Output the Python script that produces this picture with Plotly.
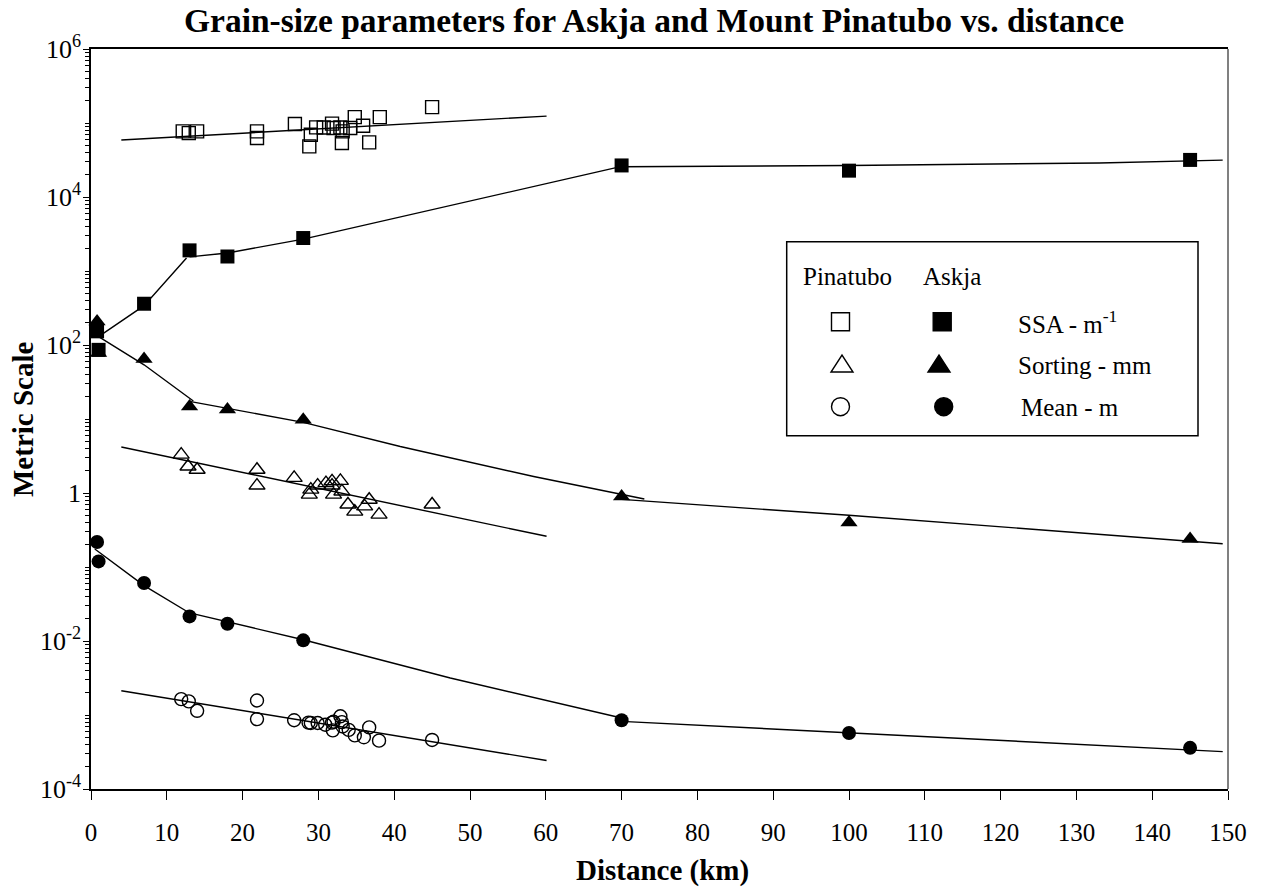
import plotly.graph_objects as go

FONT = "Liberation Serif, Times New Roman, serif"

# ---- Mount Pinatubo samples (open symbols) ----
pin_ssa_x = [12.1, 12.9, 14.0, 21.9, 21.9, 26.9, 28.8, 29.0, 29.7, 30.7, 31.8,
             32.0, 32.9, 33.1, 33.2, 34.2, 34.8, 35.9, 36.7, 38.1, 45.0]
pin_ssa = [77000, 73000, 77000, 77000, 62700, 96900, 48300, 69500, 87300, 87000, 98000,
           85500, 87000, 53700, 77000, 85500, 120000, 92000, 54700, 120000, 164000]

pin_sort_x = [11.9, 12.8, 14.0, 21.9, 21.9, 26.8, 28.8, 29.0, 29.9, 31.0, 31.8,
              31.8, 32.0, 32.9, 33.1, 33.9, 34.8, 36.1, 36.7, 38.0, 45.0]
pin_sort = [3.3, 2.28, 2.06, 2.06, 1.26, 1.6, 0.95, 1.11, 1.26, 1.36, 1.44,
            1.26, 0.95, 1.46, 1.05, 0.70, 0.56, 0.66, 0.81, 0.51, 0.70]

pin_mean_x = [11.9, 12.9, 14.0, 21.9, 21.9, 26.8, 28.7, 29.0, 29.9, 30.9, 31.8,
              31.9, 32.0, 32.9, 33.1, 33.2, 34.0, 34.8, 36.0, 36.7, 38.0, 45.0]
pin_mean = [1.64e-3, 1.53e-3, 1.14e-3, 1.57e-3, 8.8e-4, 8.5e-4, 7.9e-4, 7.8e-4, 7.8e-4, 7.4e-4, 7.9e-4,
            6.2e-4, 8.1e-4, 9.6e-4, 8.0e-4, 7.0e-4, 6.3e-4, 5.3e-4, 5.0e-4, 6.8e-4, 4.5e-4, 4.6e-4]

# ---- Askja samples (filled symbols) ----
ask_x = [0.8, 1.0, 7, 13, 18, 28, 70, 100, 145]
ask_ssa = [153, 86, 361, 1900, 1570, 2790, 26700, 22700, 31700]
ask_sort = [208, 78, 64.7, 14.8, 13.4, 9.8, 0.90, 0.40, 0.239]
ask_mean = [0.218, 0.119, 0.0608, 0.0215, 0.0171, 0.0102, 8.5e-4, 5.7e-4, 3.6e-4]

# ---- Fitted trend curves ----
pin_fit_x = [4.0, 60.1]
pin_ssa_fit = [58900, 124000]
pin_sort_fit = [4.19, 0.26]
pin_mean_fit = [2.13e-3, 2.43e-4]

# Askja trends are piecewise: near-vent, medial and distal segments
ask_ssa_fit_x = [[1.0, 7, 12.6], [13, 18, 28, 70], [70, 100, 133, 149.3]]
ask_ssa_fit = [[130, 340, 1500], [1550, 1750, 2700, 25900], [25600, 26700, 28800, 31500]]
ask_sort_fit_x = [[1.0, 7, 13.5], [13, 28, 40.8, 58.4, 73], [70, 100, 149.3]]
ask_sort_fit = [[130, 54, 17.5], [17.3, 9.0, 4.25, 1.67, 0.83], [0.82, 0.50, 0.206]]
ask_mean_fit_x = [[0.5, 7, 13], [13, 28, 47.4, 70], [70, 100, 149.3]]
ask_mean_fit = [[0.175, 0.056, 0.0239], [0.024, 0.0104, 0.00316, 0.00091], [8.2e-4, 5.7e-4, 3.2e-4]]

x_ticks = list(range(0, 151, 10))
y_label_decades = [-4, -2, 0, 2, 4, 6]
y_tick_text = ["10<sup>-4</sup>", "10<sup>-2</sup>", "1", "10<sup>2</sup>", "10<sup>4</sup>", "10<sup>6</sup>"]


def joined(xs_list, ys_list):
    xs, ys = [], []
    for xs_seg, ys_seg in zip(xs_list, ys_list):
        xs += list(xs_seg) + [None]
        ys += list(ys_seg) + [None]
    return xs, ys


fig = go.Figure()
line_style = dict(color="black", width=1.4)

for fx, fy in [(pin_fit_x, pin_ssa_fit), (pin_fit_x, pin_sort_fit), (pin_fit_x, pin_mean_fit)]:
    fig.add_trace(go.Scatter(x=fx, y=fy, mode="lines", line=line_style,
                             showlegend=False, hoverinfo="skip"))
for fxs, fys in [(ask_ssa_fit_x, ask_ssa_fit), (ask_sort_fit_x, ask_sort_fit),
                 (ask_mean_fit_x, ask_mean_fit)]:
    xs, ys = joined(fxs, fys)
    fig.add_trace(go.Scatter(x=xs, y=ys, mode="lines", line=line_style,
                             showlegend=False, hoverinfo="skip", connectgaps=False))

open_line = dict(color="black", width=1.4)
fig.add_trace(go.Scatter(x=pin_ssa_x, y=pin_ssa, mode="markers", name="Pinatubo SSA",
                         marker=dict(symbol="square-open", size=13, color="black", line=open_line)))
fig.add_trace(go.Scatter(x=pin_sort_x, y=pin_sort, mode="markers", name="Pinatubo sorting",
                         marker=dict(symbol="triangle-up-open", size=14, color="black", line=open_line)))
fig.add_trace(go.Scatter(x=pin_mean_x, y=pin_mean, mode="markers", name="Pinatubo mean",
                         marker=dict(symbol="circle-open", size=13, color="black", line=open_line)))

fig.add_trace(go.Scatter(x=ask_x, y=ask_ssa, mode="markers", name="Askja SSA", cliponaxis=False,
                         marker=dict(symbol="square", size=14, color="black", line=dict(width=0))))
fig.add_trace(go.Scatter(x=ask_x, y=ask_sort, mode="markers", name="Askja sorting", cliponaxis=False,
                         marker=dict(symbol="triangle-up", size=15, color="black", line=dict(width=0))))
fig.add_trace(go.Scatter(x=ask_x, y=ask_mean, mode="markers", name="Askja mean", cliponaxis=False,
                         marker=dict(symbol="circle", size=14, color="black", line=dict(width=0))))

# plot area in pixels: left 91, right 1228, top 49, bottom 789
L, R, T, B = 91, 1228, 49, 789


def px(xp):
    return (xp - L) / (R - L)


def py(yp):
    return (B - yp) / (B - T)


shapes = [
    dict(type="line", xref="paper", yref="paper", x0=1, x1=1, y0=0, y1=1,
         line=dict(color="#808080", width=2)),
    dict(type="rect", xref="paper", yref="paper", x0=px(786.7), x1=px(1198),
         y0=py(435.7), y1=py(241.7), line=dict(color="black", width=1.5), fillcolor="white"),
]


def symbol_shape(kind, cx, cy, filled):
    base = dict(xref="paper", yref="paper", xsizemode="pixel", ysizemode="pixel",
                xanchor=px(cx), yanchor=py(cy),
                line=dict(color="black", width=1.4),
                fillcolor="black" if filled else "white")
    if kind == "square":
        base.update(type="rect", x0=-9, x1=9, y0=-9, y1=9)
    elif kind == "circle":
        base.update(type="circle", x0=-9, x1=9, y0=-9, y1=9)
    else:
        base.update(type="path", path="M -11,-7 L 11,-7 L 0,10 Z")
    return base


shapes += [
    symbol_shape("square", 840.5, 321.7, False),
    symbol_shape("square", 942.2, 321.7, True),
    symbol_shape("triangle", 842, 365, False),
    symbol_shape("triangle", 939, 365, True),
    symbol_shape("circle", 840.5, 406.7, False),
    symbol_shape("circle", 943.7, 406.7, True),
]

ann_font = dict(family=FONT, size=25, color="black")
annotations = [
    dict(text="<b>Grain-size parameters for Askja and Mount Pinatubo vs. distance</b>",
         xref="paper", yref="paper", x=px(654), y=py(21), xanchor="center", yanchor="middle",
         showarrow=False, font=dict(family=FONT, size=33.5, color="black")),
    dict(text="<b>Distance (km)</b>", xref="paper", yref="paper", x=px(662), y=py(870),
         xanchor="center", yanchor="middle", showarrow=False,
         font=dict(family=FONT, size=29, color="black")),
    dict(text="<b>Metric Scale</b>", xref="paper", yref="paper", x=px(23), y=0.5, textangle=-90,
         xanchor="center", yanchor="middle", showarrow=False,
         font=dict(family=FONT, size=29, color="black")),
    dict(text="Pinatubo", xref="paper", yref="paper", x=px(801), y=py(276),
         xanchor="left", yanchor="middle", showarrow=False, font=ann_font),
    dict(text="Askja", xref="paper", yref="paper", x=px(921), y=py(276),
         xanchor="left", yanchor="middle", showarrow=False, font=ann_font),
    dict(text="SSA - m<sup>-1</sup>", xref="paper", yref="paper", x=px(1016), y=py(322),
         xanchor="left", yanchor="middle", showarrow=False, font=ann_font),
    dict(text="Sorting - mm", xref="paper", yref="paper", x=px(1016), y=py(365),
         xanchor="left", yanchor="middle", showarrow=False, font=ann_font),
    dict(text="Mean - m", xref="paper", yref="paper", x=px(1019), y=py(407),
         xanchor="left", yanchor="middle", showarrow=False, font=ann_font),
]

x_tick_font = dict(family=FONT, size=25, color="black")
y_tick_font = dict(family=FONT, size=26, color="black")
# unlabelled ticks: every odd decade plus the 2..9 subdivisions of each decade
minor_vals = [m * 10 ** d for d in range(-4, 6) for m in range(2, 10)] + \
             [10 ** d for d in range(-3, 6, 2)]

fig.update_layout(
    width=1267, height=896,
    margin=dict(l=L, r=1267 - R, t=T, b=896 - B),
    paper_bgcolor="white", plot_bgcolor="white",
    showlegend=False,
    shapes=shapes,
    annotations=annotations,
    font=dict(family=FONT, color="black"),
    xaxis=dict(range=[0, 150], tickmode="array", tickvals=x_ticks,
               ticks="outside", ticklen=9, tickwidth=1, tickcolor="black",
               showline=True, linecolor="black", linewidth=1.5, mirror=True,
               showgrid=False, zeroline=False, tickfont=x_tick_font, ticklabelstandoff=11),
    yaxis=dict(type="log", range=[-4, 6], tickmode="array",
               tickvals=[10 ** d for d in y_label_decades],
               ticktext=y_tick_text,
               ticks="outside", ticklen=6, tickwidth=1, tickcolor="black",
               showline=True, linecolor="black", linewidth=1.5,
               showgrid=False, zeroline=False, tickfont=y_tick_font, ticklabelstandoff=-3,
               minor=dict(tickmode="array", tickvals=minor_vals, ticks="outside",
                          ticklen=4, tickwidth=1, tickcolor="black", showgrid=False)),
)

fig.write_html("out.html")
